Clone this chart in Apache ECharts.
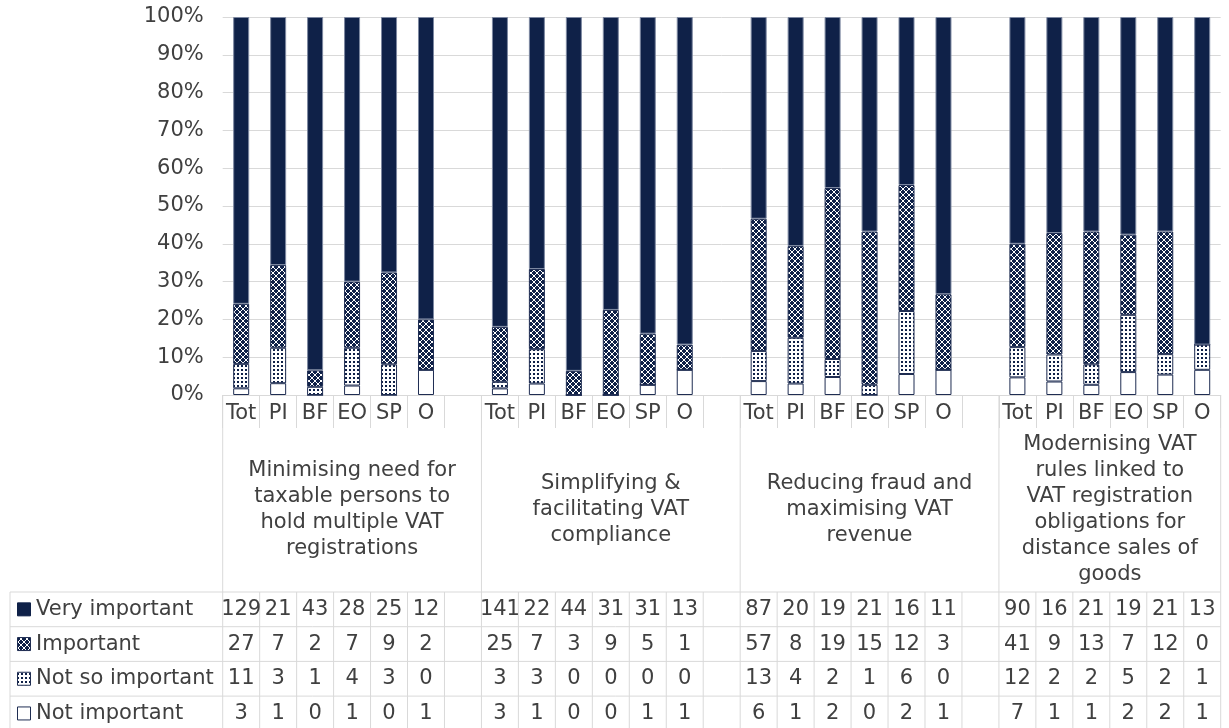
<!DOCTYPE html>
<html>
<head>
<meta charset="utf-8">
<title>Importance of objectives</title>
<script src="https://cdn.jsdelivr.net/npm/echarts@6/dist/echarts.min.js"></script>
<style>
  html, body { margin: 0; padding: 0; background: #ffffff; }
  #chart { width: 1229px; height: 728px; }
</style>
</head>
<body>
<div id="chart"></div>
<script>
// ---- data ----
const subgroups = ['Tot', 'PI', 'BF', 'EO', 'SP', 'O'];
const groupNames = [
  'Minimising need for\ntaxable persons to\nhold multiple VAT\nregistrations',
  'Simplifying &\nfacilitating VAT\ncompliance',
  'Reducing fraud and\nmaximising VAT\nrevenue',
  'Modernising VAT\nrules linked to\nVAT registration\nobligations for\ndistance sales of\ngoods'
];
const seriesNames = ['Very important', 'Important', 'Not so important', 'Not important'];
// counts, six subgroups per objective, objectives in order
const veryImportant = [129, 21, 43, 28, 25, 12,  141, 22, 44, 31, 31, 13,  87, 20, 19, 21, 16, 11,  90, 16, 21, 19, 21, 13];
const important     = [ 27,  7,  2,  7,  9,  2,   25,  7,  3,  9,  5,  1,  57,  8, 19, 15, 12,  3,  41,  9, 13,  7, 12,  0];
const notSoImportant= [ 11,  3,  1,  4,  3,  0,    3,  3,  0,  0,  0,  0,  13,  4,  2,  1,  6,  0,  12,  2,  2,  5,  2,  1];
const notImportant  = [  3,  1,  0,  1,  0,  1,    3,  1,  0,  0,  1,  1,   6,  1,  2,  0,  2,  1,   7,  1,  1,  2,  2,  1];
const yTicks = [0, 10, 20, 30, 40, 50, 60, 70, 80, 90, 100];

// ---- style ----
const NAVY = '#0f2148';
const GRID = '#d9d9d9';
const TEXT = '#404040';
const FONT = 'DejaVu Sans';
const FS = 21;

function makePattern(size, bg, fg, pixels) {
  const c = document.createElement('canvas');
  c.width = size; c.height = size;
  const ctx = c.getContext('2d');
  ctx.fillStyle = bg; ctx.fillRect(0, 0, size, size);
  ctx.fillStyle = fg;
  pixels.forEach(p => ctx.fillRect(p[0], p[1], p[2] || 1, p[3] || 1));
  return { image: c, repeat: 'repeat' };
}
// crosshatch of white on navy
const crossPx = [];
for (let i = 0; i < 6; i++) { crossPx.push([i, i]); crossPx.push([5 - i, i]); }
const importantFill = makePattern(6, NAVY, '#ffffff', crossPx);
// navy dots on white
const dotsFill = makePattern(4, '#ffffff', NAVY, [[1, 1, 2, 2]]);

const fills = {
  'Very important': NAVY,
  'Important': importantFill,
  'Not so important': dotsFill,
  'Not important': '#ffffff'
};
const borders = {
  'Very important': '#7d88a1',
  'Important': '#1f2d52',
  'Not so important': '#1f2d52',
  'Not important': '#1f2d52'
};

// ---- build columns: six bars per objective, a blank column between objectives ----
const keys = [], labels = [], colIndex = [];
groupNames.forEach((g, gi) => {
  subgroups.forEach((s, si) => {
    keys.push('c' + keys.length); labels.push(s); colIndex.push(gi * 6 + si);
  });
  if (gi < groupNames.length - 1) { keys.push('c' + keys.length); labels.push(''); colIndex.push(-1); }
});
const countsBySeries = {
  'Very important': veryImportant,
  'Important': important,
  'Not so important': notSoImportant,
  'Not important': notImportant
};
function share(name) {
  return colIndex.map(ci => {
    if (ci < 0) return null;
    const tot = veryImportant[ci] + important[ci] + notSoImportant[ci] + notImportant[ci];
    return countsBySeries[name][ci] / tot * 100;
  });
}

const stackOrder = ['Not important', 'Not so important', 'Important', 'Very important'];
const series = stackOrder.map(name => ({
  name: name,
  type: 'bar',
  stack: 'all',
  barWidth: 16,
  data: share(name),
  itemStyle: { color: fills[name], borderColor: borders[name], borderWidth: 1 },
  emphasis: { disabled: true },
  animation: false
}));

const chart = echarts.init(document.getElementById('chart'), null, { renderer: 'canvas' });
chart.setOption({
  animation: false,
  textStyle: { fontFamily: FONT },
  grid: { left: 222.7, right: 8.3, top: 17, bottom: 333, containLabel: false },
  xAxis: {
    type: 'category',
    data: keys,
    boundaryGap: true,
    axisLine: { show: true, lineStyle: { color: GRID, width: 1 } },
    axisTick: { show: true, interval: 0, length: 33, lineStyle: { color: GRID, width: 1 } },
    axisLabel: {
      interval: 0, margin: 8, color: TEXT, fontSize: FS, fontFamily: FONT,
      formatter: v => labels[keys.indexOf(v)]
    }
  },
  yAxis: {
    type: 'value',
    min: yTicks[0], max: yTicks[yTicks.length - 1], interval: yTicks[1] - yTicks[0],
    axisLine: { show: false }, axisTick: { show: false },
    axisLabel: { formatter: '{value}%', color: TEXT, fontSize: FS, fontFamily: FONT, margin: 19 },
    splitLine: { lineStyle: { color: GRID, width: 1 } }
  },
  series: series
});

// ---- data table and objective labels under the axis ----
const colX = keys.map(k => chart.convertToPixel({ xAxisIndex: 0 }, k));
const colW = colX[1] - colX[0];
const edge = k => colX[0] - colW / 2 + k * colW;      // column boundary k
const axisY = chart.convertToPixel({ yAxisIndex: 0 }, 0);
const xRight = edge(keys.length);
const tableTop = 592, rowH = 34.7, tableLeft = 10;
const groupLabelY = (axisY + 33 + tableTop) / 2;

const g = [];
const line = (x1, y1, x2, y2) => g.push({
  type: 'line', silent: true,
  shape: { x1, y1, x2, y2 },
  style: { stroke: GRID, lineWidth: 1 }
});
const text = (str, x, y, align, extra) => g.push({
  type: 'text', silent: true, x, y,
  style: Object.assign({
    text: str, fill: TEXT, fontSize: FS, fontFamily: FONT,
    align: align, verticalAlign: 'middle', textAlign: align, textVerticalAlign: 'middle'
  }, extra || {})
});

// objective separators, from the axis down through the table
const groupEdges = [0];
labels.forEach((l, i) => { if (l === '') groupEdges.push(i + 1); });
groupEdges.push(keys.length);
groupEdges.forEach(k => line(edge(k), axisY, edge(k), tableTop));

// objective labels
for (let gi = 0; gi < groupNames.length; gi++) {
  const a = groupEdges[gi], b = groupEdges[gi + 1];
  text(groupNames[gi], (edge(a) + edge(b)) / 2, groupLabelY, 'center', { lineHeight: 26 });
}

// table grid
for (let r = 0; r <= seriesNames.length; r++) line(tableLeft, tableTop + r * rowH, xRight, tableTop + r * rowH);
const tableBottom = tableTop + seriesNames.length * rowH;
line(tableLeft, tableTop, tableLeft, tableBottom);
for (let k = 0; k <= keys.length; k++) line(edge(k), tableTop, edge(k), tableBottom);

// table rows: legend key, name, counts
seriesNames.forEach((name, r) => {
  const cy = tableTop + r * rowH + rowH / 2;
  g.push({
    type: 'rect', silent: true,
    shape: { x: 17.5, y: cy - 6.5, width: 13, height: 13 },
    style: { fill: fills[name], stroke: name === 'Very important' ? NAVY : '#1f2d52', lineWidth: 1 }
  });
  text(name, 36, cy, 'left');
  colIndex.forEach((ci, k) => {
    if (ci < 0) return;
    text(String(countsBySeries[name][ci]), colX[k], cy, 'center');
  });
});

chart.setOption({ graphic: { elements: g } });
</script>
</body>
</html>
